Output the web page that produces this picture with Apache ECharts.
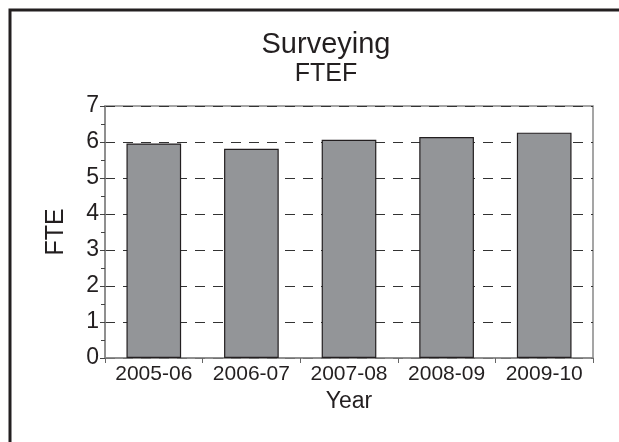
<!DOCTYPE html>
<html><head><meta charset="utf-8">
<script src="https://cdn.jsdelivr.net/npm/echarts@6/dist/echarts.min.js"></script>
<style>html,body{margin:0;padding:0;background:#fff}#c{width:619px;height:442px}</style>
</head><body><div id="c"></div>
<script>
const categories = ['2005-06','2006-07','2007-08','2008-09','2009-10'];
const fteValues = [5.96, 5.81, 6.06, 6.14, 6.26];
const yTicks = [0,1,2,3,4,5,6,7];

const FONT = '"Liberation Sans", Arial, sans-serif';
const TXT = '#231f20';
const chart = echarts.init(document.getElementById('c'), null, {renderer:'canvas'});
chart.setOption({
  backgroundColor:'#fff',
  animation:false,
  title:{
    text:'Surveying', subtext:'FTEF',
    left:321, top:25, textAlign:'center', itemGap:3,
    textStyle:{fontFamily:FONT, fontSize:29, fontWeight:'normal', color:TXT},
    subtextStyle:{fontFamily:FONT, fontSize:25, color:TXT}
  },
  graphic:[
    {type:'polyline', shape:{points:[[10,442],[10,10],[619,10]]}, style:{stroke:'#231f20', lineWidth:3, fill:null}}
  ],
  grid:{left:105, right:26, top:106, bottom:84, show:true, borderColor:'#888', borderWidth:1.5, backgroundColor:'transparent'},
  xAxis:{
    type:'category', data:categories,
    name:'Year', nameLocation:'middle', nameGap:31,
    nameTextStyle:{fontFamily:FONT, fontSize:23, color:TXT},
    axisLine:{lineStyle:{color:'#888', width:1.5}},
    axisTick:{show:true, alignWithLabel:false, length:5, lineStyle:{color:'#666'}},
    axisLabel:{fontFamily:FONT, fontSize:21, color:TXT, margin:6, interval:0, hideOverlap:false},
    splitLine:{show:false}
  },
  yAxis:{
    type:'value', min:yTicks[0], max:yTicks[yTicks.length-1], interval:1,
    name:'FTE', nameLocation:'middle', nameGap:36,
    nameTextStyle:{fontFamily:FONT, fontSize:25, color:TXT},
    axisLine:{show:true, lineStyle:{color:'#888', width:1.5}},
    axisTick:{show:true, length:5, lineStyle:{color:'#444'}},
    minorTick:{show:true, splitNumber:2, length:4, lineStyle:{color:'#444'}},
    axisLabel:{fontFamily:FONT, fontSize:23, color:TXT, margin:6},
    splitLine:{show:true, lineStyle:{color:'#333', type:[10,8], width:1}}
  },
  series:[{
    type:'bar', data:fteValues, barWidth:'56%',
    itemStyle:{color:'#939598', borderColor:'#231f20', borderWidth:1.2}
  }]
});
</script></body></html>
